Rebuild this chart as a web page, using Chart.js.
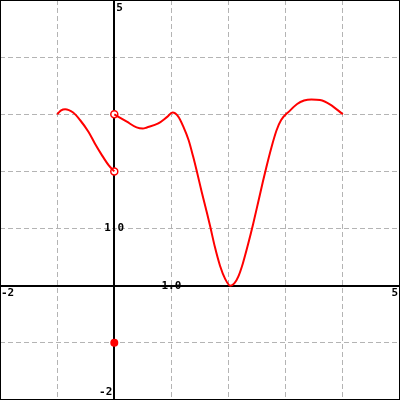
<!DOCTYPE html>
<html>
<head>
<meta charset="utf-8">
<script src="https://cdn.jsdelivr.net/npm/chart.js@4/dist/chart.umd.min.js"></script>
<style>
  html, body { margin: 0; padding: 0; background: #fff; }
  canvas { display: block; }
</style>
</head>
<body>
<canvas id="graph" width="400" height="400"></canvas>
<script>
// ── Data ──────────────────────────────────────────────────────
const X_MIN = -2, X_MAX = 5;
const Y_MIN = -2, Y_MAX = 5;

// left piece, x in [-1, 0)
const leftX = [-1, -0.93, -0.86, -0.72, -0.6, -0.45, -0.34, -0.22, -0.1, 0];
const leftY = [3, 3.07, 3.09, 3.03, 2.9, 2.69, 2.49, 2.29, 2.11, 2];

// right piece, x in (0, 4]
const rightX = [0, 0.22, 0.39, 0.5, 0.57, 0.77, 0.92, 1.02, 1.12, 1.21, 1.3, 1.38, 1.44, 1.53, 1.62,
                1.68, 1.76, 1.85, 1.94, 2.03, 2.1, 2.17, 2.25, 2.34, 2.43, 2.52, 2.6, 2.66, 2.75,
                2.84, 2.92, 3.07, 3.2, 3.32, 3.45, 3.6, 3.78, 4.0];
const rightY = [3, 2.87, 2.77, 2.75, 2.77, 2.84, 2.95, 3.03, 2.96, 2.78, 2.55, 2.26, 2.02, 1.64, 1.28,
                1.03, 0.68, 0.35, 0.12, 0, 0.04, 0.16, 0.39, 0.72, 1.08, 1.47, 1.82, 2.07, 2.42,
                2.72, 2.9, 3.06, 3.18, 3.24, 3.26, 3.25, 3.17, 3.0];

const openX = [0, 0];
const openY = [3, 2];
const dotX = [0];
const dotY = [-1];

// axis labels
const axisLabels = [
    { x: 0, y: 5, text: '5' },
    { x: 0, y: -2, text: '-2' },
    { x: -2, y: 0, text: '-2' },
    { x: 5, y: 0, text: '5' },
    { x: 1, y: 0, text: '1.0' },
    { x: 0, y: 1, text: '1.0' },
];

const RED = '#ff0000';
const pts = (xs, ys) => xs.map((x, i) => ({ x, y: ys[i] }));

// ── Axes + labels + frame ─────────────────────────────────────
const axesPlugin = {
    id: 'axes',
    beforeDatasetsDraw(chart) {
        const { ctx, scales: { x, y } } = chart;
        const x0 = Math.round(x.getPixelForValue(0));
        const y0 = Math.round(y.getPixelForValue(0));
        ctx.save();
        ctx.strokeStyle = '#000';
        ctx.lineWidth = 2;
        ctx.beginPath();
        ctx.moveTo(0, y0); ctx.lineTo(400, y0);
        ctx.moveTo(x0, 0); ctx.lineTo(x0, 400);
        ctx.stroke();

        ctx.fillStyle = '#000';
        ctx.font = 'bold 11px "DejaVu Sans Mono", monospace';
        const px = v => x.getPixelForValue(v);
        const py = v => y.getPixelForValue(v);
        // top "5"
        ctx.textAlign = 'left'; ctx.textBaseline = 'top';
        ctx.fillText(axisLabels[0].text, px(0) + 2, 3);
        // bottom "-2"
        ctx.textAlign = 'right'; ctx.textBaseline = 'bottom';
        ctx.fillText(axisLabels[1].text, px(0) - 2, 398);
        // left "-2"
        ctx.textAlign = 'left'; ctx.textBaseline = 'top';
        ctx.fillText(axisLabels[2].text, 1, py(0) + 2);
        // right "5"
        ctx.textAlign = 'right'; ctx.textBaseline = 'top';
        ctx.fillText(axisLabels[3].text, 398, py(0) + 2);
        // "1.0" labels centred on the tick points
        ctx.textAlign = 'center'; ctx.textBaseline = 'middle';
        ctx.fillText(axisLabels[4].text, px(1), py(0));
        ctx.fillText(axisLabels[5].text, px(0), py(1));
        ctx.restore();
    },
    afterDraw(chart) {
        const { ctx } = chart;
        ctx.save();
        ctx.strokeStyle = '#000';
        ctx.lineWidth = 1;
        ctx.strokeRect(0.5, 0.5, 399, 399);
        ctx.restore();
    },
};

// ── Chart ─────────────────────────────────────────────────────
const lineStyle = { showLine: true, borderColor: RED, borderWidth: 2, pointRadius: 0, cubicInterpolationMode: 'monotone', fill: false };

new Chart(document.getElementById('graph'), {
    type: 'scatter',
    data: {
        datasets: [
            { data: pts(leftX, leftY), ...lineStyle },
            { data: pts(rightX, rightY), ...lineStyle },
            { data: pts(openX, openY), showLine: false, pointRadius: 3.5, backgroundColor: '#fff', borderColor: RED, borderWidth: 1.5 },
            { data: pts(dotX, dotY), showLine: false, pointRadius: 4, backgroundColor: RED, borderColor: RED, borderWidth: 0 },
        ],
    },
    options: {
        responsive: false, animation: false,
        layout: { padding: 0, autoPadding: false },
        plugins: { legend: { display: false }, tooltip: { enabled: false } },
        scales: {
            x: {
                type: 'linear', min: X_MIN, max: X_MAX,
                ticks: { display: false, stepSize: 1 },
                grid: { color: '#b4b4b4', lineWidth: 1, drawTicks: false },
                border: { display: false, dash: [5, 3] },
            },
            y: {
                type: 'linear', min: Y_MIN, max: Y_MAX,
                ticks: { display: false, stepSize: 1 },
                grid: { color: '#b4b4b4', lineWidth: 1, drawTicks: false },
                border: { display: false, dash: [5, 3] },
            },
        },
    },
    plugins: [axesPlugin],
});
</script>
</body>
</html>
